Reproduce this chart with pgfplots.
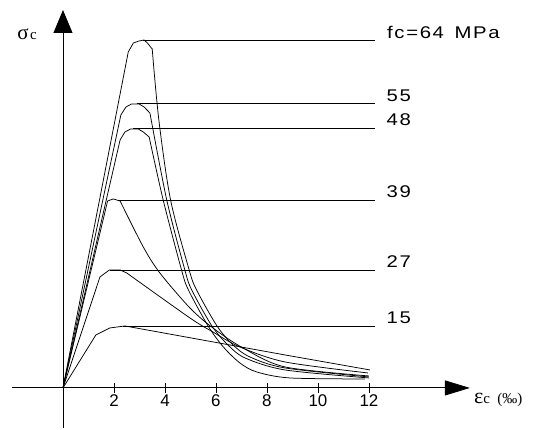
\documentclass[border=0pt]{standalone}
\usepackage{fontspec}
\setmainfont{Liberation Serif}
\newfontfamily\cadfont[LetterSpace=8]{Liberation Sans}
\newfontfamily\cadtick{Liberation Sans}
\usepackage{pgfplots}
\pgfplotsset{compat=1.18}
\usetikzlibrary{arrows.meta}
\newcommand{\cad}[1]{\scalebox{1.2}[1]{\cadfont\fontsize{17}{17}\selectfont #1}}
\tikzset{
  lab/.style={anchor=west, inner sep=0pt},
  crv/.style={black, line width=0.75bp},
  lvl/.style={black, line width=0.6bp},
}

\begin{document}
\begin{tikzpicture}
\begin{axis}[
  x=25.5bp, y=1bp,
  xmin=-2, xmax=15.96, ymin=-40, ymax=378,
  axis lines=middle,
  enlargelimits=false,
  clip=false,
  xtick={2,4,...,12}, ytick=\empty,
  major tick length=10bp, tick align=center,
  tick style={black, line width=0.6bp},
  xticklabel style={font=\cadtick\fontsize{17}{17}\selectfont, anchor=north, inner sep=0pt, yshift=-2bp},
  /pgf/number format/assume math mode=true,
  x axis line style={line width=0.9bp, -{Triangle[length=25bp,width=15bp]}},
  y axis line style={line width=0.9bp, -{Triangle[length=23bp,width=19bp]}},
]
  %% fc = 64 MPa
  \addplot[crv] coordinates {(0,0) (2.56,336) (2.76,345) (2.98,347) (3.18,348) (3.31,345) (3.50,339)};
  \addplot[crv, smooth, tension=0.5] coordinates {
    (3.50,339) (3.76,268) (4.22,188) (4.95,118) (5.24,98) (6.04,62)
    (6.67,43) (7.33,31) (8.71,20) (12.0,11)};
  %% fc = 55 MPa
  \addplot[crv] coordinates {(0,0) (2.27,273) (2.47,281) (2.69,284) (2.99,284) (3.18,281) (3.41,275)};
  \addplot[crv, smooth, tension=0.5] coordinates {
    (3.41,275) (4.07,188) (4.78,118) (5.05,98) (5.84,62)
    (6.47,43) (7.14,30) (8.71,18) (12.0,10)};
  %% fc = 48 MPa
  \addplot[crv] coordinates {(0,0) (2.24,248) (2.43,256) (2.65,259) (2.95,259) (3.15,256) (3.38,251)};
  \addplot[crv, smooth, tension=0.5] coordinates {
    (3.38,251) (3.93,188) (4.65,118) (4.92,98) (5.69,62)
    (6.29,41) (6.94,25) (7.60,16) (8.90,10) (11.84,9)};
  %% fc = 39 MPa
  \addplot[crv] coordinates {(0,0) (1.75,187) (1.97,189) (2.24,187)};
  \addplot[crv, smooth, tension=0.5] coordinates {
    (2.24,187) (3.15,141) (3.80,115) (4.98,80) (5.88,60)
    (7.06,40) (8.71,21) (12.0,12)};
  %% fc = 27 MPa
  \addplot[crv] coordinates {(0,0) (1.45,111) (1.82,118) (2.24,118) (2.50,115)};
  \addplot[crv, smooth, tension=0.5] coordinates {
    (2.50,115) (4.98,70) (5.88,56) (6.94,41) (8.71,26) (11.96,15)};
  %% fc = 15 MPa
  \addplot[crv] coordinates {(0,0) (1.29,53) (1.84,60) (2.43,62) (8.71,33) (12.04,18)};

  %% peak level lines
  \addplot[lvl] coordinates {(3.14,348) (12.24,348)};
  \addplot[lvl] coordinates {(2.89,285) (12.24,285)};
  \addplot[lvl] coordinates {(2.76,260) (12.24,260)};
  \addplot[lvl] coordinates {(2.17,188) (12.24,188)};
  \addplot[lvl] coordinates {(1.84,118) (12.24,118)};
  \addplot[lvl] coordinates {(2.37,62) (12.24,62)};

  \node[lab] at (axis cs:12.71,356) {\cad{fc=64\,\ MPa}};
  \node[lab] at (axis cs:12.69,292) {\cad{55}};
  \node[lab] at (axis cs:12.69,268) {\cad{48}};
  \node[lab] at (axis cs:12.69,196) {\cad{39}};
  \node[lab] at (axis cs:12.69,126) {\cad{27}};
  \node[lab] at (axis cs:12.69,70) {\cad{15}};

  \node[anchor=base west, inner sep=0pt] at (axis cs:-1.80,348)
    {{\fontsize{21}{21}\selectfont σ}\,{\fontsize{15}{15}\selectfont c}};
  \node[anchor=base west, inner sep=0pt] at (axis cs:16.12,-16)
    {{\fontsize{22}{22}\selectfont ε}{\fontsize{15}{15}\selectfont c\ \ (‰)}};

  \coordinate (bl) at (axis cs:-2.47,-42);
  \coordinate (tr) at (axis cs:18.67,388);
\end{axis}
\pgfresetboundingbox
\useasboundingbox (bl) rectangle (tr);
\end{tikzpicture}
\end{document}
